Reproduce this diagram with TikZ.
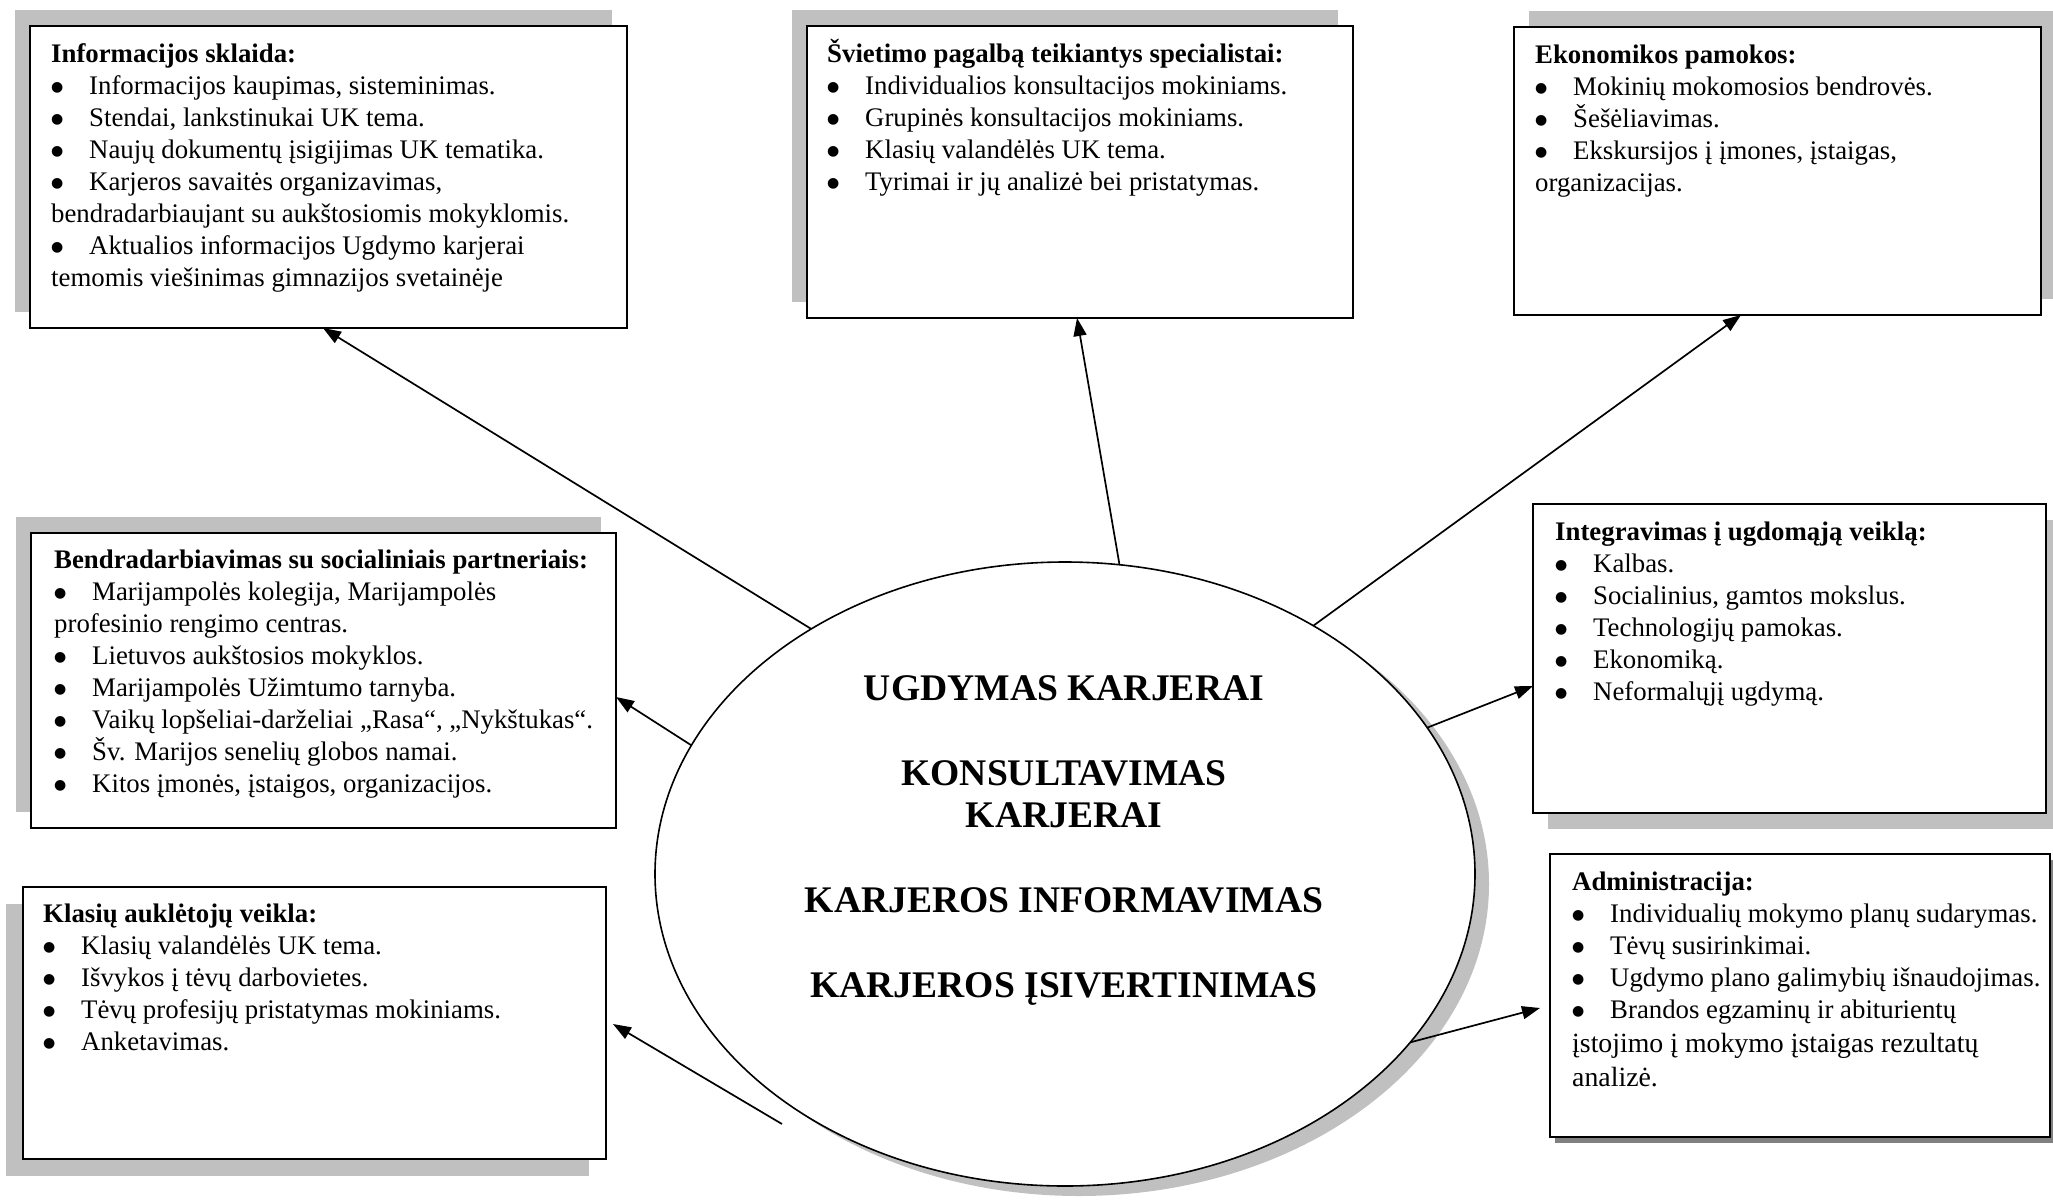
\documentclass[tikz,border=0pt]{standalone}
\usepackage{fontspec}
\setmainfont{Liberation Serif}
\newfontfamily\symf{DejaVu Sans}
\usetikzlibrary{shapes.geometric,shadows,arrows.meta}
\definecolor{shdgray}{RGB}{192,192,192}
\definecolor{shddark}{RGB}{128,128,128}
\newcommand{\bul}{\makebox[38pt][l]{\raisebox{2.2pt}{\symf\fontsize{14}{14}\selectfont ●}}}
\newcommand{\boxtext}[2]{\vtop{\hsize=#1\parindent=0pt\raggedright\fontsize{26.8}{32}\selectfont #2}}
\newcommand{\centtext}[1]{\vtop{\hsize=580pt\parindent=0pt\centering\fontsize{37.6}{42.5}\selectfont\bfseries #1}}
\begin{document}
\begin{tikzpicture}[x=1pt,y=-1pt,
  boxframe/.style={draw=black,line width=2.2pt,fill=white,rectangle,inner sep=0pt,outer sep=0pt,anchor=north west},
  shUL/.style={drop shadow={shadow xshift=-15pt,shadow yshift=16pt,fill=shdgray,opacity=1,draw=none}},
  shUR/.style={drop shadow={shadow xshift=15pt,shadow yshift=16pt,fill=shdgray,opacity=1,draw=none}},
  shDR/.style={drop shadow={shadow xshift=15pt,shadow yshift=-16pt,fill=shdgray,opacity=1,draw=none}},
  shDL/.style={drop shadow={shadow xshift=-17pt,shadow yshift=-17pt,fill=shdgray,opacity=1,draw=none}},
  shDRs/.style={drop shadow={shadow xshift=5pt,shadow yshift=-6pt,fill=shddark,opacity=1,draw=none}},
  txt/.style={anchor=base west,inner sep=0pt},
  con/.style={line width=1.7pt,-{Triangle[length=18pt,width=13pt]}},
  oval/.style={ellipse,draw=black,line width=1.6pt,fill=white,inner sep=0pt,outer sep=0pt,
    minimum width=820pt,minimum height=624pt,
    drop shadow={shadow xshift=14pt,shadow yshift=-10pt,fill=shdgray,opacity=1,draw=none}}
]
\useasboundingbox (0,0) rectangle (2053,1202);

% boxes
\node[boxframe,shUL,minimum width=597pt,minimum height=302pt] (b1) at (30,26) {};
\node[boxframe,shUL,minimum width=546pt,minimum height=292pt] (b2) at (807,26) {};
\node[boxframe,shUR,minimum width=527pt,minimum height=288pt] (b3) at (1514,27) {};
\node[boxframe,shUL,minimum width=585pt,minimum height=295pt] (b4) at (31,533) {};
\node[boxframe,shDR,minimum width=513pt,minimum height=309pt] (b5) at (1533,504) {};
\node[boxframe,shDRs,minimum width=500pt,minimum height=283pt] (b6) at (1550,854) {};
\node[boxframe,shDL,minimum width=583pt,minimum height=272pt] (b7) at (23,887) {};

% central ellipse
\node[oval] (ell) at (1065,874) {};
\node[anchor=base,inner sep=0pt] (ctr) at (1064,700) {\centtext{UGDYMAS KARJERAI\\[42.5pt]
KONSULTAVIMAS\\ KARJERAI\\[42.5pt]
KARJEROS INFORMAVIMAS\\[42.5pt]
KARJEROS ĮSIVERTINIMAS}};

% texts
\node[txt] (b1t) at (51,62) {\boxtext{570pt}{\textbf{Informacijos sklaida:}\\
\bul Informacijos kaupimas, sisteminimas.\\
\bul Stendai, lankstinukai UK tema.\\
\bul Naujų dokumentų įsigijimas UK tematika.\\
\bul Karjeros savaitės organizavimas,\\
bendradarbiaujant su aukštosiomis mokyklomis.\\
\bul Aktualios informacijos Ugdymo karjerai\\
temomis viešinimas gimnazijos svetainėje}};

\node[txt] (b2t) at (827,62) {\boxtext{520pt}{\textbf{Švietimo pagalbą teikiantys specialistai:}\\
\bul Individualios konsultacijos mokiniams.\\
\bul Grupinės konsultacijos mokiniams.\\
\bul Klasių valandėlės UK tema.\\
\bul Tyrimai ir jų analizė bei pristatymas.}};

\node[txt] (b3t) at (1535,63) {\boxtext{500pt}{\textbf{Ekonomikos pamokos:}\\
\bul Mokinių mokomosios bendrovės.\\
\bul Šešėliavimas.\\
\bul Ekskursijos į įmones, įstaigas,\\
organizacijas.}};

\node[txt] (b4t) at (54,568) {\boxtext{560pt}{\textbf{Bendradarbiavimas su socialiniais partneriais:}\\
\bul Marijampolės kolegija, Marijampolės\\
profesinio rengimo centras.\\
\bul Lietuvos aukštosios mokyklos.\\
\bul Marijampolės Užimtumo tarnyba.\\
\bul Vaikų lopšeliai-darželiai „Rasa“, „Nykštukas“.\\
\bul Šv. Marijos senelių globos namai.\\
\bul Kitos įmonės, įstaigos, organizacijos.}};

\node[txt] (b5t) at (1555,540) {\boxtext{485pt}{\textbf{Integravimas į ugdomąją veiklą:}\\
\bul Kalbas.\\
\bul Socialinius, gamtos mokslus.\\
\bul Technologijų pamokas.\\
\bul Ekonomiką.\\
\bul Neformalųjį ugdymą.}};

\node[txt] (b6t) at (1572,890) {\boxtext{476pt}{\textbf{Administracija:}\\
\bul Individualių mokymo planų sudarymas.\\
\bul Tėvų susirinkimai.\\
\bul Ugdymo plano galimybių išnaudojimas.\\
\bul Brandos egzaminų ir abiturientų\\[2pt]
{\fontsize{27.8}{32}\selectfont įstojimo į mokymo įstaigas rezultatų}\\[2pt]
{\fontsize{27.8}{32}\selectfont analizė.}}};

\node[txt] (b7t) at (43,922) {\boxtext{555pt}{\textbf{Klasių auklėtojų veikla:}\\
\bul Klasių valandėlės UK tema.\\
\bul Išvykos į tėvų darbovietes.\\
\bul Tėvų profesijų pristatymas mokiniams.\\
\bul Anketavimas.}};

% connector ends
\coordinate (t1) at (b1.south -| 323,0);
\coordinate (t2) at (b2.south -| 1077,0);
\coordinate (t3) at (b3.south -| 1741,0);
\coordinate (t4) at (b4.east |- 0,697);
\coordinate (t5) at (b5.west |- 0,686);
\coordinate (t6) at (1540,1008);
\coordinate (t7) at (613,1024);
\coordinate (s7) at (782,1124);

\draw[con] (ell.136) -- (t1);
\draw[con] (ell.80) -- (t2);
\draw[con] (ell.45) -- (t3);
\draw[con] (ell.161) -- (t4);
\draw[con] (ell.22) -- (t5);
\draw[con] (ell.334) -- (t6);
\draw[con] (s7) -- (t7);
\end{tikzpicture}
\end{document}
